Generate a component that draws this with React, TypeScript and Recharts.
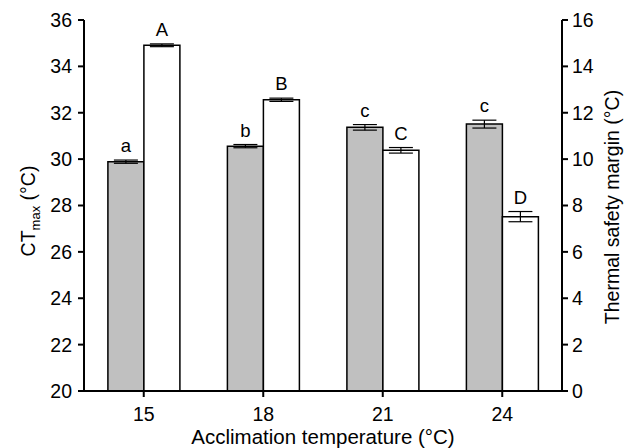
import { BarChart, Bar, XAxis, YAxis, ErrorBar, LabelList, Label } from 'recharts';

const temps = ['15', '18', '21', '24'];
const ctmax = [29.89, 30.56, 31.37, 31.51];
const ctmaxErr = [0.07, 0.07, 0.12, 0.17];
const ctmaxLetters = ['a', 'b', 'c', 'c'];
const safety = [14.91, 12.56, 10.38, 7.52];
const safetyErr = [0.06, 0.07, 0.12, 0.22];
const safetyLetters = ['A', 'B', 'C', 'D'];
const leftTicks = [20, 22, 24, 26, 28, 30, 32, 34, 36];
const rightTicks = [0, 2, 4, 6, 8, 10, 12, 14, 16];

const data = temps.map((t, i) => ({
  temp: t,
  ctmax: ctmax[i],
  ctmaxErr: ctmaxErr[i],
  ctmaxLetter: ctmaxLetters[i],
  safety: safety[i],
  safetyErr: safetyErr[i],
  safetyLetter: safetyLetters[i],
}));

const font = 'Liberation Sans, Arial, sans-serif';
const tickStyle = { fill: '#000', fontSize: 19.5, fontFamily: font };

function letterContent(values: number[], errs: number[], base: number) {
  return (props: any) => {
    const { x, y, width, height, value, index } = props;
    const pxPerUnit = height / (values[index] - base);
    const top = y - errs[index] * pxPerUnit;
    return (
      <text x={x + width / 2} y={top - 8} textAnchor="middle" fontSize={18.5} fontFamily={font} fill="#000">
        {value}
      </text>
    );
  };
}

export default function App() {
  return (
    <div style={{ position: 'absolute', left: 0, top: 0, width: 636, height: 448, background: '#fff' }}>
      <BarChart
        width={636}
        height={448}
        data={data}
        margin={{ top: 20, right: 0, bottom: 0, left: 0 }}
        barGap={0}
        barCategoryGap="20%"
      >
        <XAxis
          dataKey="temp"
          height={57}
          tickSize={6}
          tickMargin={10}
          axisLine={{ stroke: '#000', strokeWidth: 2 }}
          tickLine={{ stroke: '#000', strokeWidth: 2 }}
          tick={tickStyle}
        >
          <Label
            content={(p: any) => (
              <text
                x={p.viewBox.x + p.viewBox.width / 2}
                y={444}
                textAnchor="middle"
                fontSize={20.5}
                fontFamily={font}
                fill="#000"
              >
                Acclimation temperature (°C)
              </text>
            )}
          />
        </XAxis>
        <YAxis
          yAxisId="left"
          orientation="left"
          width={84}
          domain={[20, 36]}
          ticks={leftTicks}
          interval={0}
          tickSize={6}
          tickMargin={6}
          axisLine={{ stroke: '#000', strokeWidth: 2 }}
          tickLine={{ stroke: '#000', strokeWidth: 2 }}
          tick={tickStyle}
        >
          <Label
            content={() => (
              <text
                transform="translate(35, 211) rotate(-90)"
                textAnchor="middle"
                fontSize={19.5}
                fontFamily={font}
                fill="#000"
              >
                CT
                <tspan fontSize={13} dy={5}>max</tspan>
                <tspan dy={-5}> (°C)</tspan>
              </text>
            )}
          />
        </YAxis>
        <YAxis
          yAxisId="right"
          orientation="right"
          width={74}
          domain={[0, 16]}
          ticks={rightTicks}
          interval={0}
          tickSize={6}
          tickMargin={4}
          axisLine={{ stroke: '#000', strokeWidth: 2 }}
          tickLine={{ stroke: '#000', strokeWidth: 2 }}
          tick={tickStyle}
        >
          <Label
            content={() => (
              <text
                transform="translate(619, 207) rotate(-90)"
                textAnchor="middle"
                fontSize={19.5}
                fontFamily={font}
                fill="#000"
              >
                Thermal safety margin (°C)
              </text>
            )}
          />
        </YAxis>
        <Bar
          yAxisId="left"
          dataKey="ctmax"
          fill="#c0c0c0"
          stroke="#000"
          strokeWidth={1.5}
          isAnimationActive={false}
        >
          <ErrorBar dataKey="ctmaxErr" width={12} stroke="#000" strokeWidth={1.2} isAnimationActive={false} />
          <LabelList dataKey="ctmaxLetter" content={letterContent(ctmax, ctmaxErr, 20)} />
        </Bar>
        <Bar
          yAxisId="right"
          dataKey="safety"
          fill="#fff"
          stroke="#000"
          strokeWidth={1.5}
          isAnimationActive={false}
        >
          <ErrorBar dataKey="safetyErr" width={12} stroke="#000" strokeWidth={1.2} isAnimationActive={false} />
          <LabelList dataKey="safetyLetter" content={letterContent(safety, safetyErr, 0)} />
        </Bar>
      </BarChart>
    </div>
  );
}
